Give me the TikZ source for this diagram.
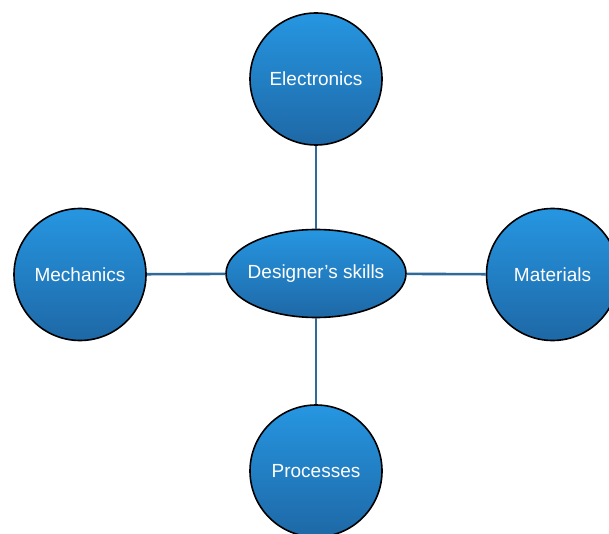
\documentclass[tikz,border=0pt]{standalone}
\usepackage{fontspec}
\setmainfont{Liberation Sans}
\usetikzlibrary{shapes.geometric}
\definecolor{topblue}{RGB}{38,150,225}
\definecolor{botblue}{RGB}{30,104,166}
\definecolor{linkblue}{RGB}{47,106,154}
\tikzset{
  bubble/.style={circle, draw=black, line width=1.6pt, minimum size=132pt, inner sep=0pt,
    top color=topblue, bottom color=botblue, text=white, font=\fontsize{19}{21}\selectfont},
  hub/.style={ellipse, draw=black, line width=1.6pt, minimum width=180pt, minimum height=88pt,
    inner xsep=-10pt, inner ysep=0pt,
    top color=topblue, bottom color=botblue, text=white, font=\fontsize{19}{21}\selectfont},
  link/.style={draw=linkblue, line width=2.6pt}
}
\begin{document}
\begin{tikzpicture}[x=1pt,y=-1pt]
\useasboundingbox (0,0) rectangle (609,534);
\clip (0,0) rectangle (609,534);
\node[hub] (hub) at (316,273.5) {Designer’s skills};
\node[bubble] (elec) at (316,79) {Electronics};
\node[bubble] (mech) at (80,274.5) {Mechanics};
\node[bubble] (mat) at (552.5,274.5) {Materials};
\node[bubble] (proc) at (316,471) {Processes};
\draw[link] (hub) -- (elec);
\draw[link] (hub) -- (mech);
\draw[link] (hub) -- (mat);
\draw[link] (hub.south) -- (proc.north);
\end{tikzpicture}
\end{document}
